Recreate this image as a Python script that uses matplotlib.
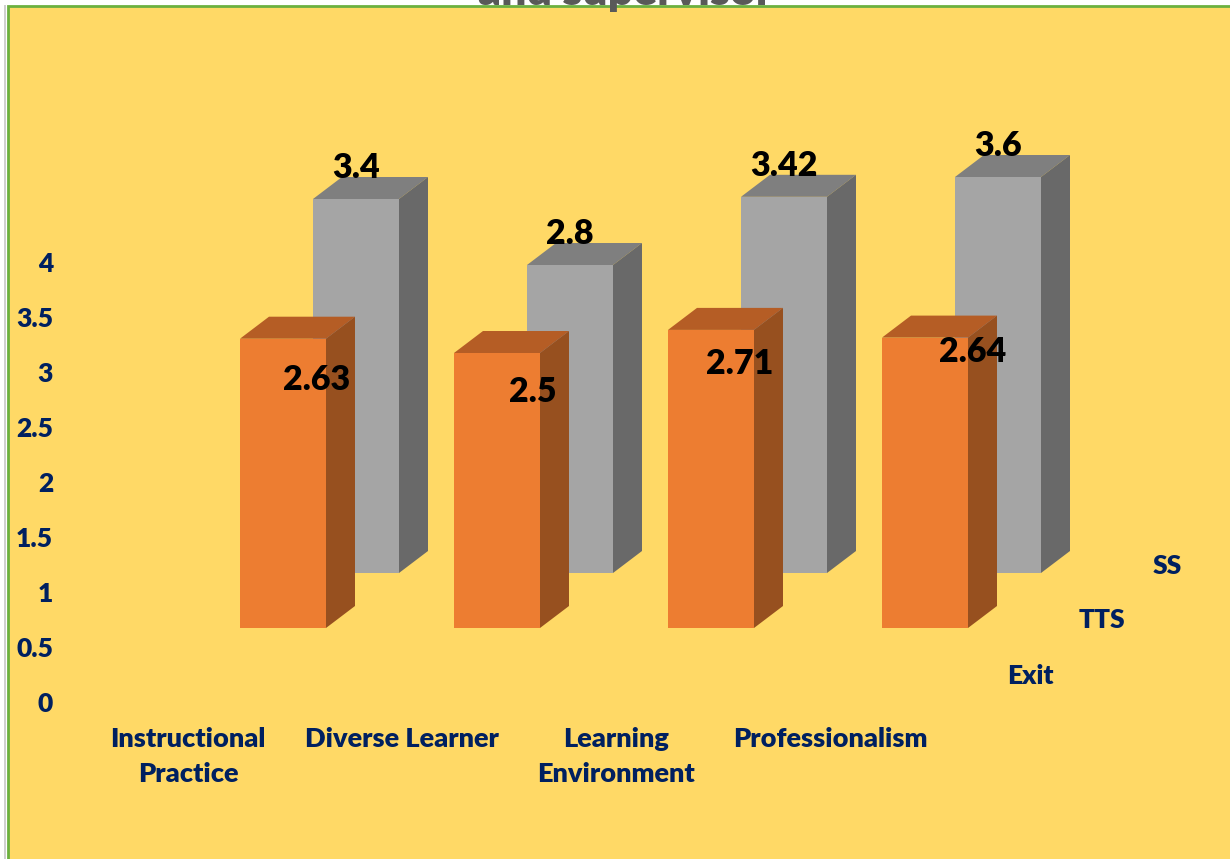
"""3D-style clustered column chart on a yellow panel."""

import matplotlib

matplotlib.use("Agg")
import matplotlib.pyplot as plt
from matplotlib.patches import Polygon, Rectangle

categories = ["Instructional\nPractice", "Diverse Learner", "Learning\nEnvironment", "Professionalism"]
exit_values = [2.63, 2.5, 2.71, 2.64]
ss_values = [3.4, 2.8, 3.42, 3.6]
value_ticks = [0, 0.5, 1, 1.5, 2, 2.5, 3, 3.5, 4]
value_tick_labels = ["0", "0.5", "1", "1.5", "2", "2.5", "3", "3.5", "4"]
series_names = ["Exit", "TTS", "SS"]

W, H = 1230, 859
PX_X = 214.0  # pixels per category
PX_Y = 110.0  # pixels per value unit
AX_LEFT, AX_BOTTOM, AX_TOP = 60, 702, 7
ZERO_X = 188

BAR_W = 86 / PX_X
SIDE_DX = 29 / PX_X
SIDE_DY = 22 / PX_Y
STEP_X = 73 / PX_X  # shift between depth rows
STEP_Y = 55 / PX_Y
BAR_X0 = 52 / PX_X  # left edge of front row, from category centre
BAR_Y0 = 74 / PX_Y  # floor of the front row

ORANGE = ("#ED7D31", "#B55D25", "#97501F")
GRAY = ("#A5A5A5", "#7F7F7F", "#696969")
NAVY = "#002060"

# manual offsets of the orange labels from the bar centre, as in the source
EXIT_LABEL_DX = [34, 36, 29, 48]
EXIT_LABEL_DY = [41, 39, 34, 14]
# manual x positions of the depth labels, in category units
SERIES_LABEL_X = [3.935, 4.27, 4.575]

plt.rcParams["font.family"] = ["Lato", "DejaVu Sans"]
plt.rcParams["font.weight"] = "heavy"

fig = plt.figure(figsize=(W / 100, H / 100), dpi=100, facecolor="white")

# outer frame, kept under the axes
fig.add_artist(Rectangle((3.5 / W, 0), 2.5 / W, 1 - 5 / H, transform=fig.transFigure, facecolor="#D0D0D0", edgecolor="none", zorder=-2))
fig.add_artist(Rectangle((8 / W, -0.01), 1.1, 1 + 0.01 - 6 / H, transform=fig.transFigure, facecolor="#FFD966", edgecolor="#6BB03F", linewidth=2.0, zorder=-1))

ax = fig.add_axes([AX_LEFT / W, (H - AX_BOTTOM) / H, (W - AX_LEFT) / W, (AX_BOTTOM - AX_TOP) / H])
ax.patch.set_alpha(0)
ax.set_xlim((AX_LEFT - ZERO_X) / PX_X, (W - ZERO_X) / PX_X)
ax.set_ylim(0, (AX_BOTTOM - AX_TOP) / PX_Y)
for spine in ax.spines.values():
    spine.set_visible(False)


def draw_bar(x0, y0, value, colors, z):
    x1 = x0 + BAR_W
    top = y0 + value
    ax.add_patch(Polygon([(x0, top), (x1, top), (x1 + SIDE_DX, top + SIDE_DY), (x0 + SIDE_DX, top + SIDE_DY)], facecolor=colors[1], edgecolor="none", zorder=z))
    ax.add_patch(Polygon([(x1, y0), (x1 + SIDE_DX, y0 + SIDE_DY), (x1 + SIDE_DX, top + SIDE_DY), (x1, top)], facecolor=colors[2], edgecolor="none", zorder=z))
    ax.add_patch(Rectangle((x0, y0), BAR_W, value, facecolor=colors[0], edgecolor="none", zorder=z))


for i, value in enumerate(ss_values):
    draw_bar(i + BAR_X0 + STEP_X, BAR_Y0 + STEP_Y, value, GRAY, 2)
for i, value in enumerate(exit_values):
    draw_bar(i + BAR_X0, BAR_Y0, value, ORANGE, 3)

for i, value in enumerate(ss_values):
    ax.text(i + BAR_X0 + STEP_X + BAR_W / 2, BAR_Y0 + STEP_Y + value + 31 / PX_Y, f"{value:g}",
            ha="center", va="center", fontsize=24.5, color="black", zorder=5)
for i, value in enumerate(exit_values):
    ax.text(i + BAR_X0 + BAR_W / 2 + EXIT_LABEL_DX[i] / PX_X, BAR_Y0 + value - EXIT_LABEL_DY[i] / PX_Y, f"{value:g}",
            ha="center", va="center", fontsize=24.5, color="black", zorder=5)

ax.set_yticks(value_ticks, value_tick_labels)
ax.set_xticks(range(len(categories)), categories, linespacing=1.55)
ax.tick_params(axis="y", length=0, pad=5, labelsize=19, labelcolor=NAVY)
ax.tick_params(axis="x", length=0, pad=18, labelsize=19.5, labelcolor=NAVY)

# depth axis labels
for k, name in enumerate(series_names):
    ax.text(SERIES_LABEL_X[k], 26.5 / PX_Y + k * STEP_Y, name, ha="center", va="center", fontsize=19, color=NAVY)

# title clipped by the top of the picture
fig.text(625 / W, 1 - 5 / H, "and supervisor", ha="center", va="baseline", fontsize=32, color="#595959", zorder=10)

fig.savefig("out.png", dpi=100)
